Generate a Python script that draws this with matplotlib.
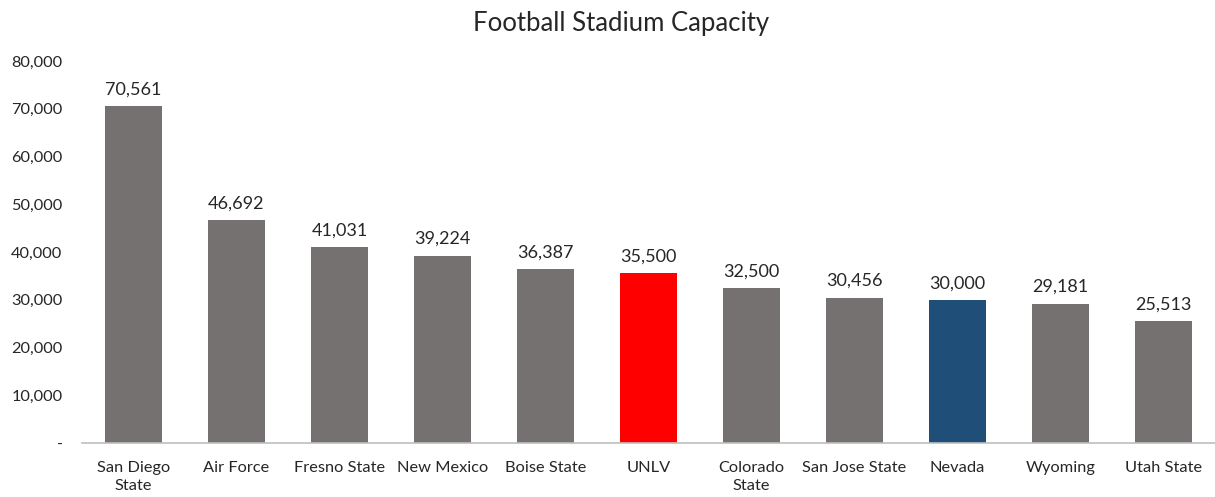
import matplotlib
matplotlib.use("Agg")
import matplotlib.pyplot as plt
from matplotlib.ticker import FuncFormatter

plt.rcParams['font.family'] = ['Lato', 'DejaVu Sans']

teams = ["San Diego\nState", "Air Force", "Fresno State", "New Mexico", "Boise State",
         "UNLV", "Colorado\nState", "San Jose State", "Nevada", "Wyoming", "Utah State"]
capacity = [70561, 46692, 41031, 39224, 36387, 35500, 32500, 30456, 30000, 29181, 25513]
yticks = [0, 10000, 20000, 30000, 40000, 50000, 60000, 70000, 80000]

GRAY = "#767171"
colors = [GRAY] * len(teams)
colors[teams.index("UNLV")] = "#FF0000"
colors[teams.index("Nevada")] = "#1F4E79"

fig = plt.figure(figsize=(12.15, 4.97), dpi=100)
ax = fig.add_axes([82/1215, 1-443/497, 1-82/1215, (443-61)/497])

x = list(range(len(teams)))
bars = ax.bar(x, capacity, width=0.56, color=colors, zorder=2)
for xi, v in zip(x, capacity):
    ax.text(xi, v + 1800, f"{v:,}", ha="center", va="bottom", fontsize=13, color="#262626")

ax.set_xlim(-0.5, len(teams) - 0.5)
ax.set_ylim(0, 80000)
ax.set_yticks(yticks)
ax.yaxis.set_major_formatter(FuncFormatter(lambda v, p: "-" if v == 0 else f"{int(v):,}"))
ax.set_xticks(x)
ax.set_xticklabels(teams, fontsize=11.8, color="#262626", linespacing=1.35)
for lab in ax.get_yticklabels():
    lab.set_fontsize(11.8)
    lab.set_color("#262626")

ax.tick_params(axis="y", length=0, pad=14)
ax.tick_params(axis="x", length=0, pad=13)
for s in ["top", "right", "left"]:
    ax.spines[s].set_visible(False)
ax.spines["bottom"].set_color("#BFBFBF")
ax.spines["bottom"].set_linewidth(1.2)

fig.text(0.511, 1-23/497, "Football Stadium Capacity", ha="center", va="center",
         fontsize=18.5, color="#262626")

fig.savefig("out.png", dpi=100)
